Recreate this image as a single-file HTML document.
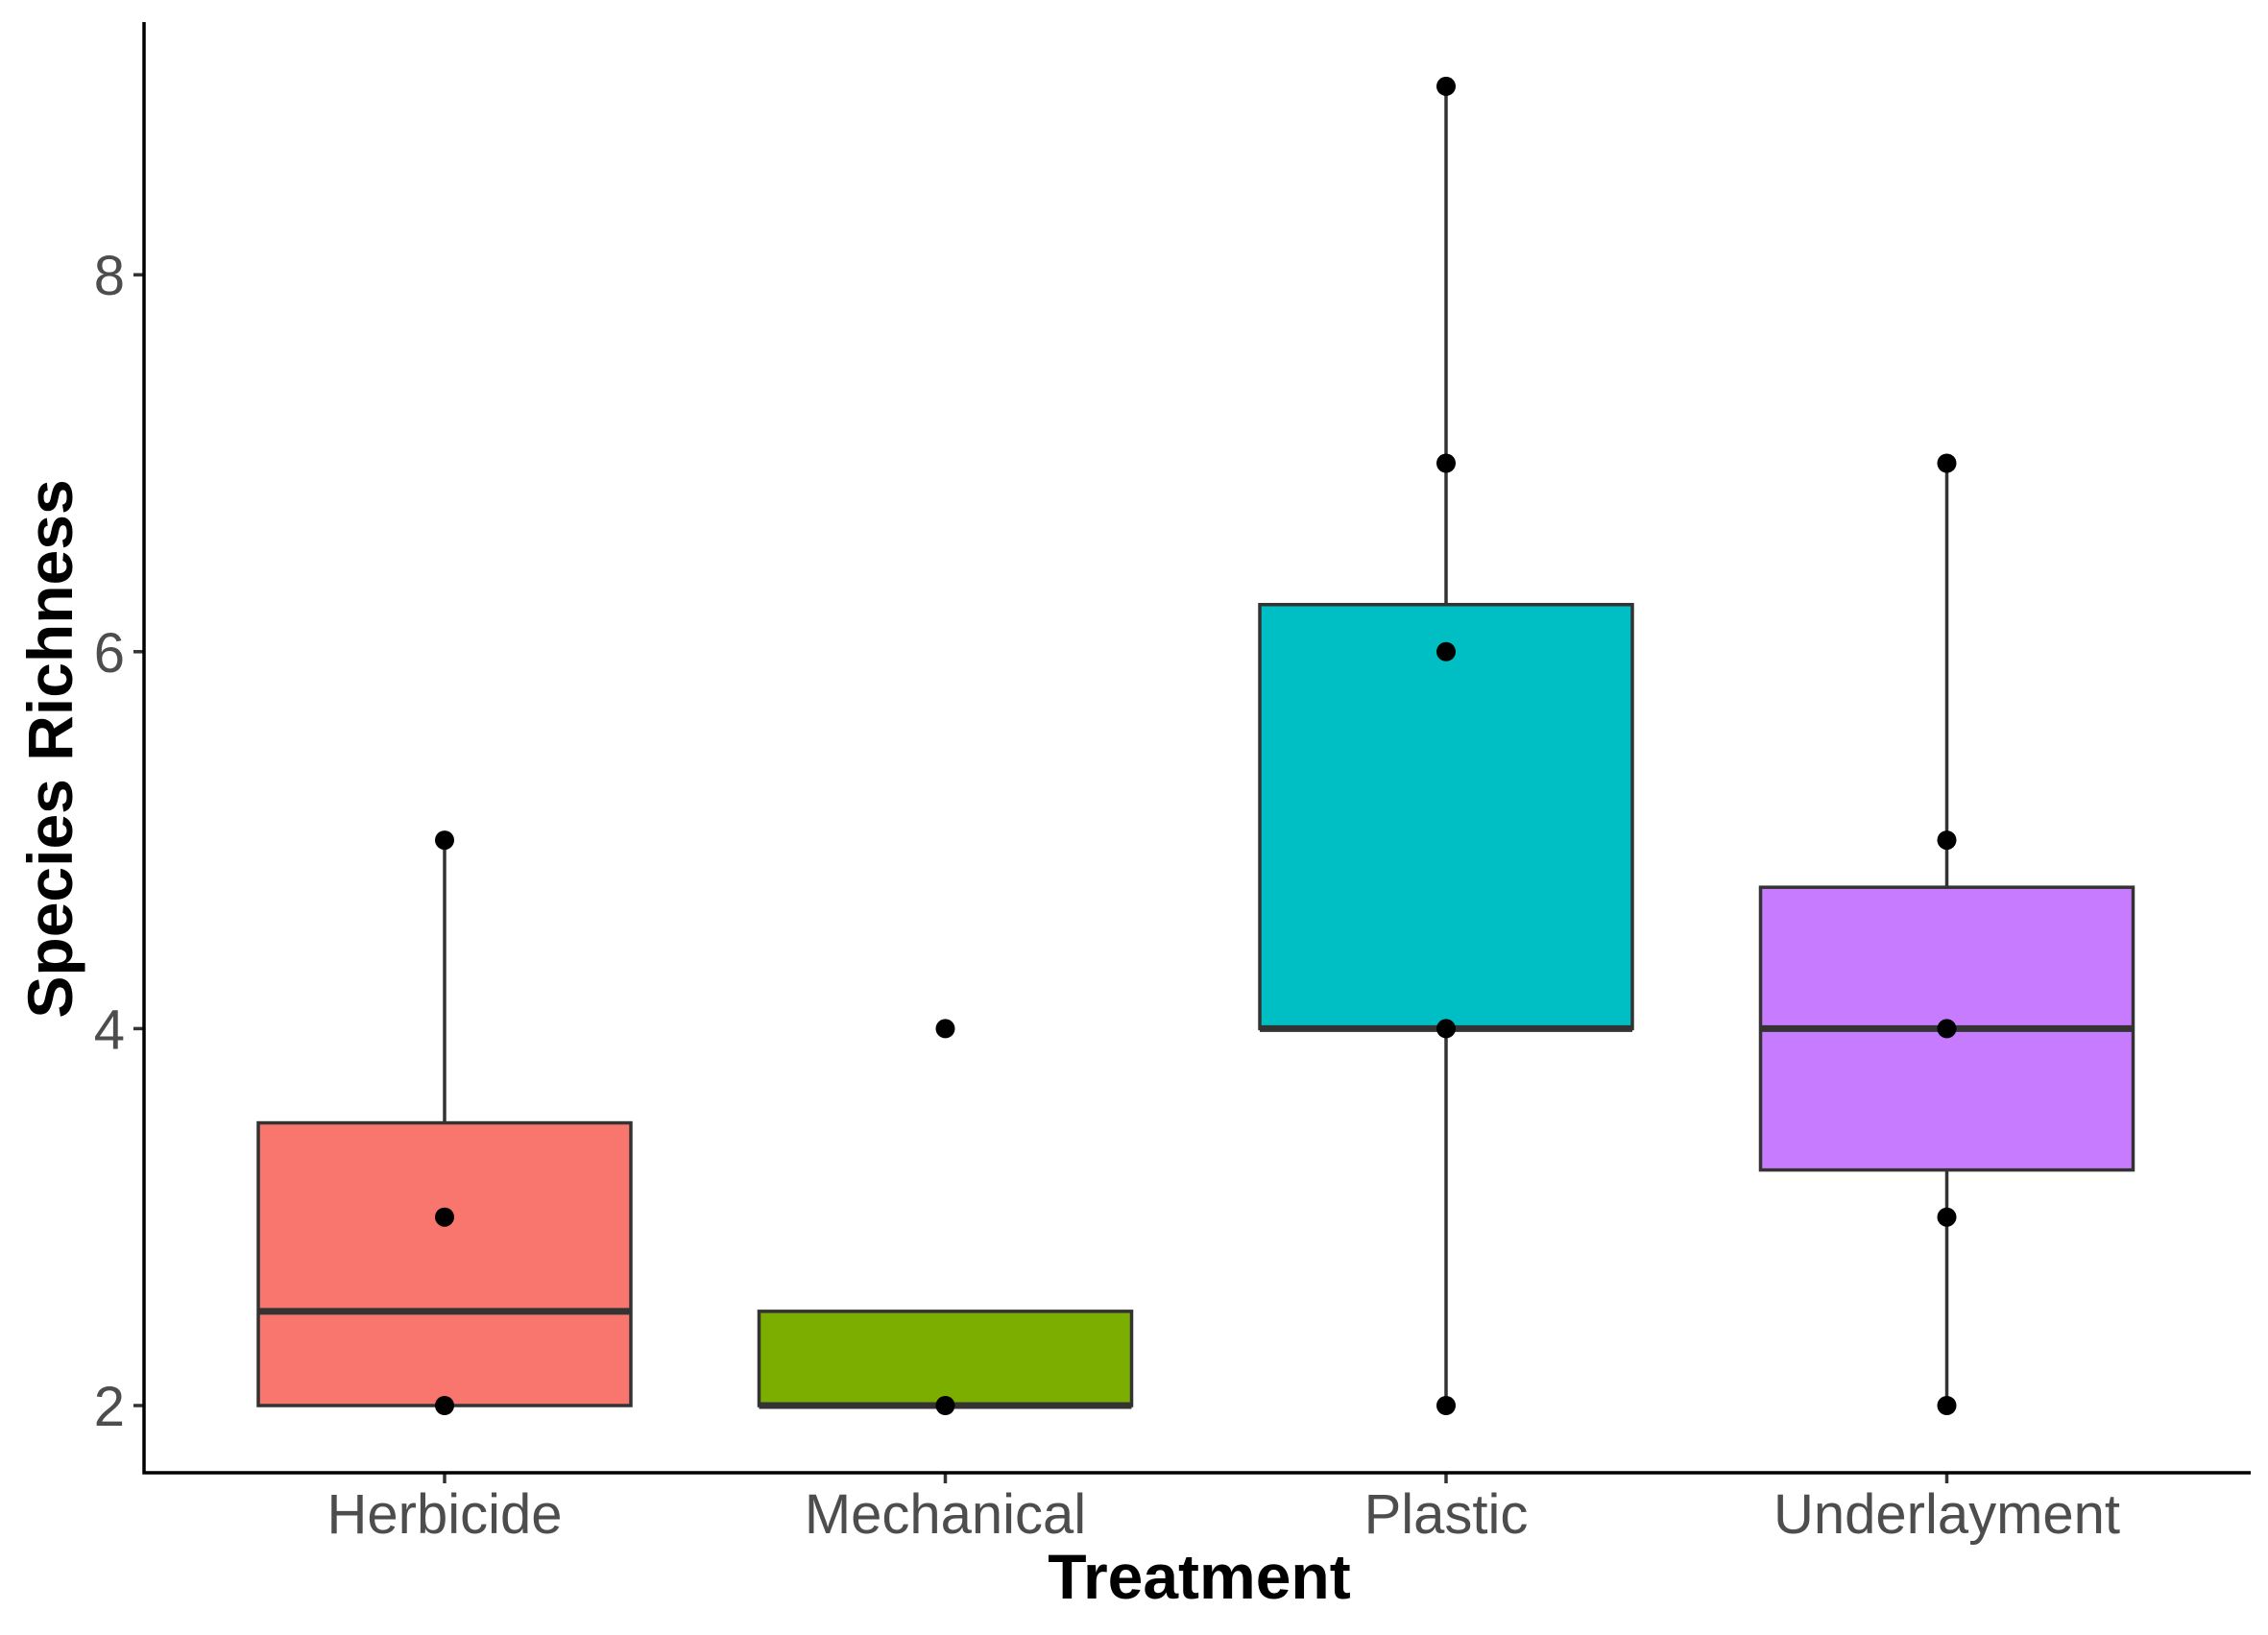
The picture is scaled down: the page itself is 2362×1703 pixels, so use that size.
<!DOCTYPE html>
<html><head><meta charset="utf-8"><style>
html,body{margin:0;padding:0;background:#fff;}
svg{display:block;font-family:"Liberation Sans",Arial,sans-serif;}
</style></head><body>
<svg id="chart" width="2362" height="1703" viewBox="0 0 2362 1703"></svg>
<script>
const categories = ["Herbicide","Mechanical","Plastic","Underlayment"];
const q1 = [2, 2, 4, 3.25];
const medians = [2.5, 2, 4, 4];
const q3 = [3.5, 2.5, 6.25, 4.75];
const whiskerLow = [2, 2, 2, 2];
const whiskerHigh = [5, 2.5, 9, 7];
const points = [[2,3,5],[2,4],[2,4,6,7,9],[2,3,4,5,7]];
const colors = ["#F8766D","#7CAE00","#00BFC4","#C77CFF"];
const yTicks = [2,4,6,8];

const svg = document.getElementById('chart');
const NS = "http://www.w3.org/2000/svg";
const xLeft = 150, xRight = 2344, yTop = 23, yBottom = 1534;
const y = v => 1464 - (v - 2) * 196.3;
const x = i => 463 + 521.5 * i;
const halfW = 194;
function mk(tag, attrs, name){
  const e = document.createElementNS(NS, tag);
  for (const k in attrs) e.setAttribute(k, attrs[k]);
  
  
  svg.appendChild(e); return e;
}
categories.forEach((c,i)=>{
  const cx = x(i);
  mk('line',{x1:cx,x2:cx,y1:y(whiskerHigh[i]),y2:y(q3[i]),stroke:'#333','stroke-width':3.5},'whisker-upper-'+c.toLowerCase());
  mk('line',{x1:cx,x2:cx,y1:y(q1[i]),y2:y(whiskerLow[i]),stroke:'#333','stroke-width':3.5},'whisker-lower-'+c.toLowerCase());
  mk('rect',{x:cx-halfW,y:y(q3[i]),width:halfW*2,height:y(q1[i])-y(q3[i]),fill:colors[i],stroke:'#333','stroke-width':3.5},'box-'+c.toLowerCase());
  mk('line',{x1:cx-halfW,x2:cx+halfW,y1:y(medians[i]),y2:y(medians[i]),stroke:'#333','stroke-width':7},'median-'+c.toLowerCase());
  points[i].forEach(v=>{
    mk('circle',{cx:cx,cy:y(v),r:10,fill:'#000'},'point-'+c.toLowerCase());
  });
  mk('line',{x1:cx,x2:cx,y1:yBottom,y2:yBottom+11,stroke:'#333','stroke-width':3.5},'x-tick');
  const t = mk('text',{x:cx,y:1597,'text-anchor':'middle','font-size':58,fill:'#4d4d4d'},'x-tick-label');
  t.textContent = c;
});
yTicks.forEach(v=>{
  mk('line',{x1:xLeft-11,x2:xLeft,y1:y(v),y2:y(v),stroke:'#333','stroke-width':3.5},'y-tick');
  const t = mk('text',{x:xLeft-20,y:y(v)+21,'text-anchor':'end','font-size':58,fill:'#4d4d4d'},'y-tick-label');
  t.textContent = v;
});
mk('line',{x1:xLeft,x2:xLeft,y1:yTop,y2:yBottom+1.5,stroke:'#000','stroke-width':3.5},'y-axis-line');
mk('line',{x1:xLeft-1.5,x2:xRight,y1:yBottom,y2:yBottom,stroke:'#000','stroke-width':3.5},'x-axis-line');
const xt = mk('text',{x:1249,y:1665,'text-anchor':'middle','font-size':66,'font-weight':'bold',fill:'#000'},'x-axis-title');
xt.textContent = 'Treatment';
const yt = mk('text',{x:0,y:0,'text-anchor':'middle','font-size':66,'font-weight':'bold',fill:'#000',transform:'translate(75,780) rotate(-90)'},'y-axis-title');
yt.textContent = 'Species Richness';
</script>
</body></html>
